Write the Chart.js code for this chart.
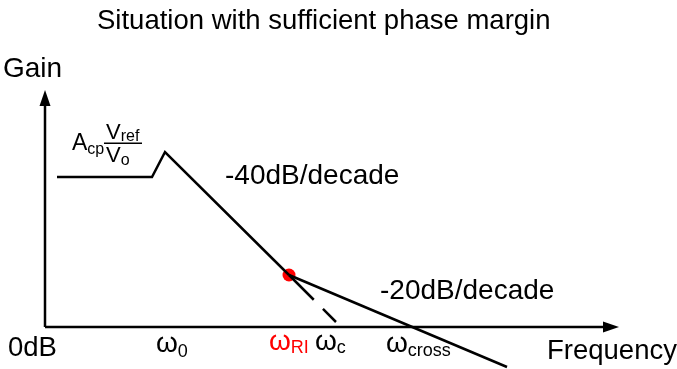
<!DOCTYPE html>
<html>
<head>
<meta charset="utf-8">
<script src="https://cdn.jsdelivr.net/npm/chart.js@4/dist/chart.umd.min.js"></script>
<style>
  html, body { margin: 0; padding: 0; background: #fff; }
  #wrap { width: 677px; height: 369px; }
</style>
</head>
<body>
<div id="wrap"><canvas id="bode" width="677" height="369"></canvas></div>
<script>
(() => {
  'use strict'

  // gain curve: flat, small peak at w0, then -40dB/decade down to wRI
  const curveFreq = [12, 107, 120, 244]
  const curveGain = [150, 150, 175, 52]
  // continuation of the -40dB/decade asymptote (dashed) down to wc
  const asymFreq = [244, 291]
  const asymGain = [52, 5]
  // -20dB/decade after wRI, crossing 0dB at wcross
  const slopeFreq = [244, 462]
  const slopeGain = [52, -40]
  // zero of the RI compensation
  const riFreq = [244]
  const riGain = [52]
  // axes (origin = 0dB)
  const gainAxisTop = 237
  const freqAxisEnd = 574

  const pts = (xs, ys) => xs.map((x, i) => ({ x, y: ys[i] }))
  const FONT = '"Liberation Sans", Arial, sans-serif'

  function txt(c, s, x, y, size, color) {
    c.font = size + 'px ' + FONT
    c.fillStyle = color || '#000'
    c.fillText(s, x, y)
    return x + c.measureText(s).width
  }

  function sub(c, main, s, x, y, size, subSize, drop, color) {
    const x2 = txt(c, main, x, y, size, color)
    return txt(c, s, x2, y + drop, subSize, color)
  }

  const arrows = {
    id: 'arrows',
    afterDatasetsDraw(chart) {
      const c = chart.ctx
      const sx = chart.scales.x
      const sy = chart.scales.y
      const ox = sx.getPixelForValue(0)
      const oy = sy.getPixelForValue(0)
      const ty = sy.getPixelForValue(gainAxisTop)
      const tx = sx.getPixelForValue(freqAxisEnd)
      c.save()
      c.fillStyle = '#000'
      c.beginPath()
      c.moveTo(ox, ty)
      c.lineTo(ox - 5.5, ty + 16)
      c.lineTo(ox + 5.5, ty + 16)
      c.closePath()
      c.fill()
      c.beginPath()
      c.moveTo(tx, oy)
      c.lineTo(tx - 16, oy - 5.5)
      c.lineTo(tx - 16, oy + 5.5)
      c.closePath()
      c.fill()
      c.restore()
    }
  }

  const labels = {
    id: 'labels',
    afterDraw(chart) {
      const c = chart.ctx
      c.save()
      c.textBaseline = 'alphabetic'
      txt(c, 'Situation with sufficient phase margin', 97, 29, 27.5)
      txt(c, 'Gain', 3, 77, 28)
      txt(c, '0dB', 8, 356, 27.5)
      txt(c, 'Frequency', 547, 359, 27.5)
      txt(c, '-40dB/decade', 225, 184, 28)
      txt(c, '-20dB/decade', 380, 299, 28)

      // A_cp * V_ref / V_o
      sub(c, 'A', 'cp', 72, 150, 23, 16, 4)
      sub(c, 'V', 'ref', 106, 139, 22, 16, 2)
      c.fillRect(104, 142.5, 38, 1.5)
      sub(c, 'V', 'o', 106, 162, 22, 16, 3)

      sub(c, 'ω', '0', 156, 352, 28, 18, 5)
      sub(c, 'ω', 'RI', 269, 350, 28, 18, 3, '#ff0000')
      sub(c, 'ω', 'c', 315, 350, 28, 18, 3)
      sub(c, 'ω', 'cross', 386, 352, 28, 18, 4)
      c.restore()
    }
  }

  const line = (data, extra) => Object.assign({
    data,
    showLine: true,
    borderColor: '#000',
    borderWidth: 2.5,
    pointRadius: 0,
    pointHoverRadius: 0,
    fill: false,
    tension: 0
  }, extra)

  new Chart(document.getElementById('bode'), {
    type: 'scatter',
    data: {
      datasets: [
        line([{ x: 0, y: 0 }, { x: 0, y: gainAxisTop - 14 }]),
        line([{ x: 0, y: 0 }, { x: freqAxisEnd - 14, y: 0 }]),
        line(pts(curveFreq, curveGain), { borderJoinStyle: 'miter' }),
        line(pts(asymFreq, asymGain), { borderDash: [35, 13] }),
        line(pts(slopeFreq, slopeGain)),
        {
          data: pts(riFreq, riGain),
          pointRadius: 6.5,
          pointHoverRadius: 6.5,
          pointBackgroundColor: '#ff0000',
          pointBorderWidth: 0,
          showLine: false
        }
      ]
    },
    options: {
      responsive: false,
      animation: false,
      devicePixelRatio: 1,
      layout: { padding: 0, autoPadding: false },
      plugins: {
        legend: { display: false },
        tooltip: { enabled: false },
        title: { display: false }
      },
      scales: {
        x: { type: 'linear', display: false, min: -45, max: 632 },
        y: { type: 'linear', display: false, min: -42, max: 327 }
      }
    },
    plugins: [arrows, labels]
  })
})()
</script>
</body>
</html>
